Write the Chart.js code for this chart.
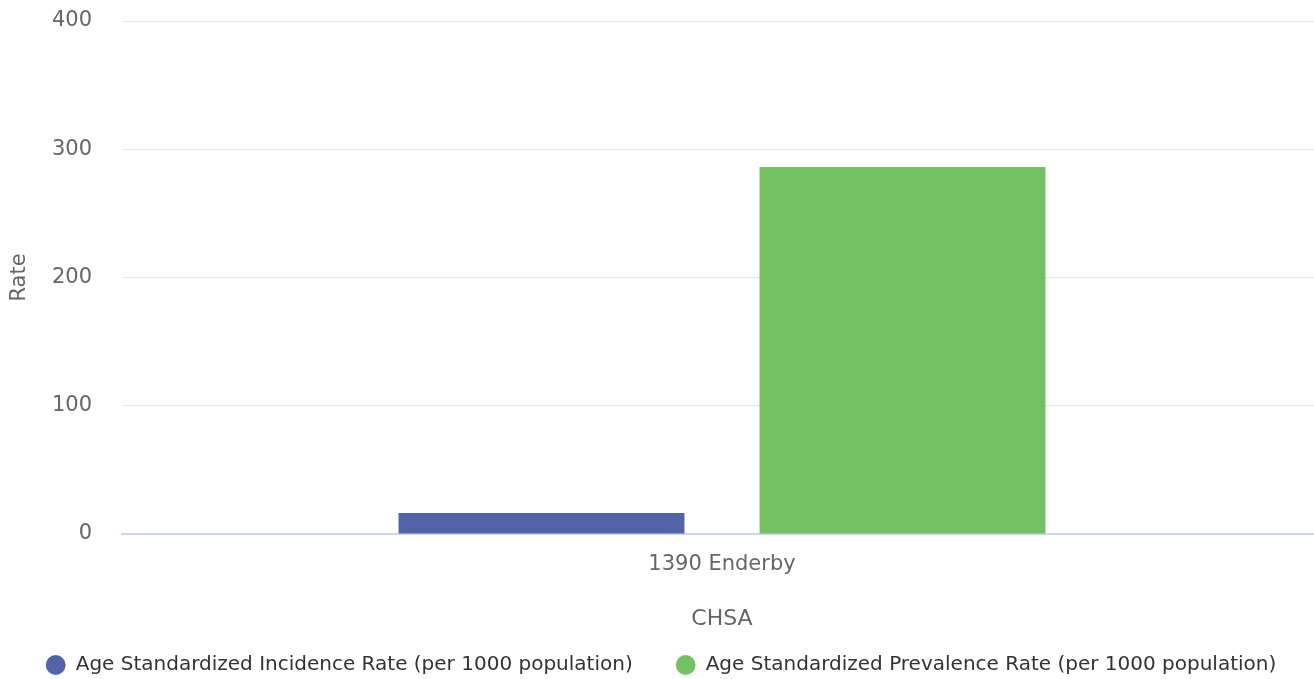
<!DOCTYPE html>
<html>
<head>
<meta charset="utf-8">
<script src="https://cdn.jsdelivr.net/npm/chart.js@4.4.1/dist/chart.umd.min.js"></script>
<style>
  html,body{margin:0;padding:0;background:#fff;overflow:hidden;}
  #wrap{width:1314px;height:679px;position:relative;overflow:hidden;}
</style>
</head>
<body>
<div id="wrap"><canvas id="c" width="1322" height="679"></canvas></div>
<script>
const categories = ["1390 Enderby"];
const incidenceValues = [16.4];
const prevalenceValues = [286.2];
const seriesNames = ["Age Standardized Incidence Rate (per 1000 population)", "Age Standardized Prevalence Rate (per 1000 population)"];
const yTicks = [0, 100, 200, 300, 400];

const FONT = "'DejaVu Sans', Verdana, sans-serif";

new Chart(document.getElementById('c'), {
  type: 'bar',
  data: {
    labels: categories,
    datasets: [
      { label: seriesNames[0], data: incidenceValues, backgroundColor: '#5363a7', borderWidth: 0 },
      { label: seriesNames[1], data: prevalenceValues, backgroundColor: '#73c163', borderWidth: 0 }
    ]
  },
  options: {
    responsive: false,
    animation: false,
    devicePixelRatio: 1,
    categoryPercentage: 0.6017,
    barPercentage: 0.792,
    layout: { padding: { top: 21, right: 0, left: 0, bottom: 0 } },
    plugins: {
      tooltip: { enabled: false },
      legend: {
        position: 'bottom',
        maxHeight: 67,
        labels: {
          usePointStyle: true,
          pointStyle: 'circle',
          boxWidth: 20,
          boxHeight: 14,
          padding: 43,
          color: '#333333',
          font: { family: FONT, size: 20 }
        }
      }
    },
    scales: {
      x: {
        grid: { display: false },
        border: { display: true, color: '#ccd6eb', width: 2 },
        ticks: { color: '#666666', font: { family: FONT, size: 21 }, padding: 10 },
        title: { display: true, text: 'CHSA', color: '#666666', font: { family: FONT, size: 22 }, padding: { top: 0, bottom: -20 } },
        afterFit: (s) => { s.height = 78; }
      },
      y: {
        min: 0, max: 400,
        afterBuildTicks: (s) => { s.ticks = yTicks.map(v => ({ value: v })); },
        grid: { color: '#e6e6e6', lineWidth: 1, drawTicks: true, tickLength: 30, tickColor: 'rgba(0,0,0,0)' },
        border: { display: false },
        ticks: { color: '#666666', font: { family: FONT, size: 21 }, padding: 0 },
        title: { display: true, text: 'Rate', color: '#666666', font: { family: FONT, size: 21 }, padding: { top: 7, bottom: 0 } },
        afterFit: (s) => { s.width = 122; }
      }
    }
  }
});
</script>
</body>
</html>
